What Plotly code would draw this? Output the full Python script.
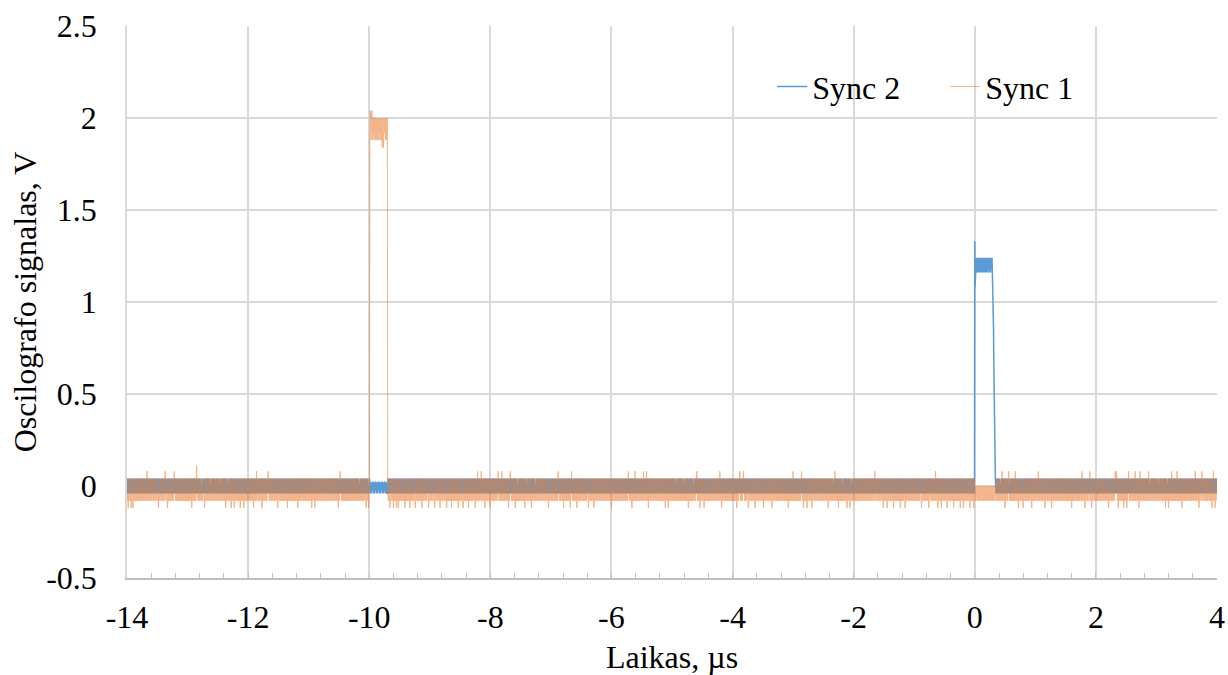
import numpy as np
import plotly.graph_objects as go

# ---- sampling grid of the oscilloscope record (µs) ----
T_START = -14.0
T_STEP = 0.005
T_COUNT = 3601

# ---- baseline noise (quantised levels, V) ----
SYNC1_BASE = [0.04, -0.08, 0.0, -0.04, 0.04, -0.08, -0.04, 0.04, -0.08, 0.0, 0.04, -0.04,
              -0.08, 0.04, 0.0, -0.08, -0.04, 0.04, -0.08, 0.04, 0.0, -0.04, -0.08, 0.04,
              -0.04, 0.0, -0.08, 0.04, -0.08, -0.04, 0.04, 0.0, -0.08, -0.04, 0.04, -0.08, 0.0]
SYNC2_BASE = [0.04, -0.04, 0.0, 0.04, -0.04, 0.04, 0.0, -0.04, 0.04, -0.04, 0.0, 0.04, -0.04,
              0.04, 0.0, -0.04, 0.04, -0.04, 0.04, 0.0, -0.04, 0.04, -0.04, 0.0, 0.04, -0.04,
              0.04, 0.0, -0.04]

# ---- Sync 1 pulse (orange) ----
SYNC1_PULSE_WINDOW = [-9.99, -9.70]
SYNC1_PULSE_LEVELS = [1.88, 2.04, 1.92, 2.0, 1.88, 1.96, 2.0, 2.04, 1.92, 2.0, 1.88, 1.96, 2.0,
                      1.92, 1.88, 2.0, 1.96, 1.92, 2.0, 1.88, 1.96, 1.92, 2.0, 1.88, 1.96, 2.0,
                      1.92, 1.88, 2.0, 1.96, 1.88, 2.0, 1.92, 1.96, 2.0, 1.88, 1.92, 2.0, 1.96,
                      1.88, 2.0, 1.84, 1.96, 1.92, 2.0, 1.84, 1.96, 1.88, 2.0, 1.92, 1.96, 2.0,
                      1.88, 1.96, 2.0, 1.92, 1.88, 2.0, 1.96]
SYNC2_DURING_SYNC1 = [0.02, -0.04, 0.02, -0.04, 0.0, 0.02, -0.04, 0.02, -0.04, 0.02]

# ---- Sync 2 pulse (blue) ----
SYNC2_PULSE_WINDOW = [0.0, 0.30]
SYNC2_PULSE_LEVELS = [1.33, 1.08, 1.24, 1.16, 1.22, 1.18, 1.24, 1.16, 1.22, 1.2, 1.24, 1.16,
                      1.22, 1.18, 1.24, 1.16, 1.2, 1.24, 1.18, 1.22, 1.16, 1.24, 1.2, 1.18,
                      1.24, 1.16, 1.22, 1.2, 1.24, 1.18, 1.22, 1.16, 1.24, 1.2, 1.18, 1.24,
                      1.16, 1.22, 1.2, 1.24, 1.18, 1.16, 1.24, 1.22, 1.18, 1.2, 1.24, 1.16,
                      1.22, 1.18, 1.24, 1.2, 1.16, 1.24, 1.22, 1.18, 1.2, 1.24, 1.16, 1.22,
                      1.2]
SYNC2_FALL_T = [0.305, 0.31, 0.315, 0.32, 0.325, 0.33, 0.335, 0.34]
SYNC2_FALL_V = [1.0, 0.85, 0.65, 0.45, 0.28, 0.12, 0.06, 0.04]
SYNC1_DURING_SYNC2 = [0.0, -0.08, -0.04, 0.0, -0.08, -0.04, -0.08, 0.0, -0.04, -0.08]

# ---- isolated noise spikes (µs) ----
SYNC1_DOWN_SPIKES = [-13.98, -13.93, -13.90, -13.48, -13.33, -12.93, -12.72, -12.37, -12.28,
                     -12.23, -12.13, -12.07, -11.91, -11.77, -11.51, -11.35, -11.18, -10.95,
                     -10.90, -10.51, -10.05, -10.01, -9.66, -9.60, -9.55, -9.52, -9.41, -9.33,
                     -9.24, -9.13, -9.02, -8.92, -8.83, -8.72, -8.64, -8.53, -8.45, -8.36,
                     -8.25, -8.09, -8.00, -7.81, -7.70, -7.59, -7.43, -7.32, -7.04, -6.79,
                     -6.68, -6.57, -6.38, -6.29, -6.00, -5.66, -5.39, -5.11, -5.06, -4.73,
                     -4.59, -4.54, -4.47, -4.18, -3.93, -3.74, -3.63, -3.49, -3.35, -3.08,
                     -2.83, -2.77, -2.69, -2.42, -2.25, -2.11, -2.06, -1.51, -1.45, -1.34,
                     -1.23, -1.15, -0.88, -0.76, -0.65, -0.61, -0.55, -0.46, -0.35, -0.24,
                     -0.19, -0.08, -0.02, 0.06, 0.11, 0.28, 0.31, 0.50, 0.72, 0.80, 0.94,
                     1.16, 1.27, 1.60, 1.82, 1.93, 2.21, 2.37, 2.46, 2.51, 2.71, 2.87, 3.15,
                     3.20, 3.42, 3.70, 3.75, 3.92, 3.97]
SYNC1_UP_SPIKES = [-13.67, -13.37, -13.22, -11.86, -11.67, -10.48, -8.21, -8.15, -7.87,
                   -7.81, -7.67, -6.88, -6.66, -5.72, -5.61, -5.47, -5.42, -4.59, -4.21,
                   -3.88, -3.82, -3.00, -2.86, -2.31, -1.65, -0.65, 0.45, 0.56, 0.67, 1.05,
                   1.77, 1.90, 2.32, 2.34, 2.54, 2.65, 2.73, 2.87, 3.25, 3.34, 3.64, 3.75, 3.94]
SYNC1_TALL_SPIKES = [-12.85]
SYNC1_DOWN_V = -0.12
SYNC1_UP_V = 0.08
SYNC1_TALL_V = 0.11

# ---- axes ----
X_RANGE = [-14, 4]
Y_RANGE = [-0.5, 2.5]
X_TICKS = [-14, -12, -10, -8, -6, -4, -2, 0, 2, 4]
Y_TICKS = [-0.5, 0, 0.5, 1, 1.5, 2, 2.5]
Y_TICKTEXT = ["-0.5", "0", "0.5", "1", "1.5", "2", "2.5"]


def idx(t):
    return int(round((t - T_START) / T_STEP))


t = np.round(T_START + T_STEP * np.arange(T_COUNT), 3)
s1 = np.array([SYNC1_BASE[i % len(SYNC1_BASE)] for i in range(T_COUNT)], dtype=float)
s2 = np.array([SYNC2_BASE[i % len(SYNC2_BASE)] for i in range(T_COUNT)], dtype=float)

for ts in SYNC1_DOWN_SPIKES:
    s1[idx(ts)] = SYNC1_DOWN_V
for ts in SYNC1_UP_SPIKES:
    s1[idx(ts)] = SYNC1_UP_V
for ts in SYNC1_TALL_SPIKES:
    s1[idx(ts)] = SYNC1_TALL_V

# Sync 1 pulse
a, b = idx(SYNC1_PULSE_WINDOW[0]), idx(SYNC1_PULSE_WINDOW[1])
for k in range(b - a + 1):
    s1[a + k] = SYNC1_PULSE_LEVELS[k % len(SYNC1_PULSE_LEVELS)]
    s2[a + k] = SYNC2_DURING_SYNC1[k % len(SYNC2_DURING_SYNC1)]

# Sync 2 pulse
a, b = idx(SYNC2_PULSE_WINDOW[0]), idx(SYNC2_PULSE_WINDOW[1])
for k in range(b - a + 1):
    s2[a + k] = SYNC2_PULSE_LEVELS[k % len(SYNC2_PULSE_LEVELS)]
for tt, v in zip(SYNC2_FALL_T, SYNC2_FALL_V):
    s2[idx(tt)] = v
for k in range(idx(SYNC2_FALL_T[-1]) - a + 1):
    s1[a + k] = SYNC1_DURING_SYNC2[k % len(SYNC1_DURING_SYNC2)]

FONT = "Liberation Serif, Times New Roman, serif"
FS = 32
NB = "\u00a0"

fig = go.Figure()
fig.add_trace(go.Scatter(x=t, y=s2, mode="lines", name="Sync 2" + NB * 5,
                         line=dict(color="#5B9BD5", width=1.5)))
fig.add_trace(go.Scatter(x=t, y=s1, mode="lines", name="Sync 1", opacity=0.58,
                         line=dict(color="#ED7D31", width=1)))

fig.update_layout(
    width=1228, height=675,
    margin=dict(l=127, r=11, t=26, b=97, autoexpand=False),
    paper_bgcolor="white", plot_bgcolor="white",
    font=dict(family=FONT, size=FS, color="black"),
    showlegend=True,
    legend=dict(orientation="h", x=0.592, y=0.89, xanchor="left", yanchor="middle",
                bgcolor="rgba(0,0,0,0)", font=dict(size=FS, family=FONT),
                traceorder="normal"),
)
fig.update_xaxes(
    range=X_RANGE, tickvals=X_TICKS, ticktext=[str(v) for v in X_TICKS],
    automargin=False,
    showgrid=True, gridcolor="#d9d9d9", gridwidth=1.5,
    showline=True, linecolor="#bfbfbf", linewidth=1.5,
    ticks="inside", ticklen=5, tickcolor="#bfbfbf", tickwidth=1,
    minor=dict(tick0=-14, dtick=0.4, ticks="inside", ticklen=5, tickcolor="#bfbfbf",
               tickwidth=1, showgrid=False),
    ticklabelstandoff=10,
    zeroline=False,
    title=dict(text="Laikas, µs", standoff=16, font=dict(size=FS, family=FONT)),
    tickfont=dict(size=FS, family=FONT),
)
fig.update_yaxes(
    range=Y_RANGE, tickvals=Y_TICKS, ticktext=Y_TICKTEXT,
    automargin=False,
    showgrid=True, gridcolor="#d9d9d9", gridwidth=1.5,
    showline=True, linecolor="#d9d9d9", linewidth=1.5,
    ticks="", zeroline=False,
    ticklabelstandoff=22,
    title=dict(text="Oscilografo signalas, V", standoff=0, font=dict(size=FS, family=FONT)),
    tickfont=dict(size=FS, family=FONT),
)

fig.write_html("out.html")
